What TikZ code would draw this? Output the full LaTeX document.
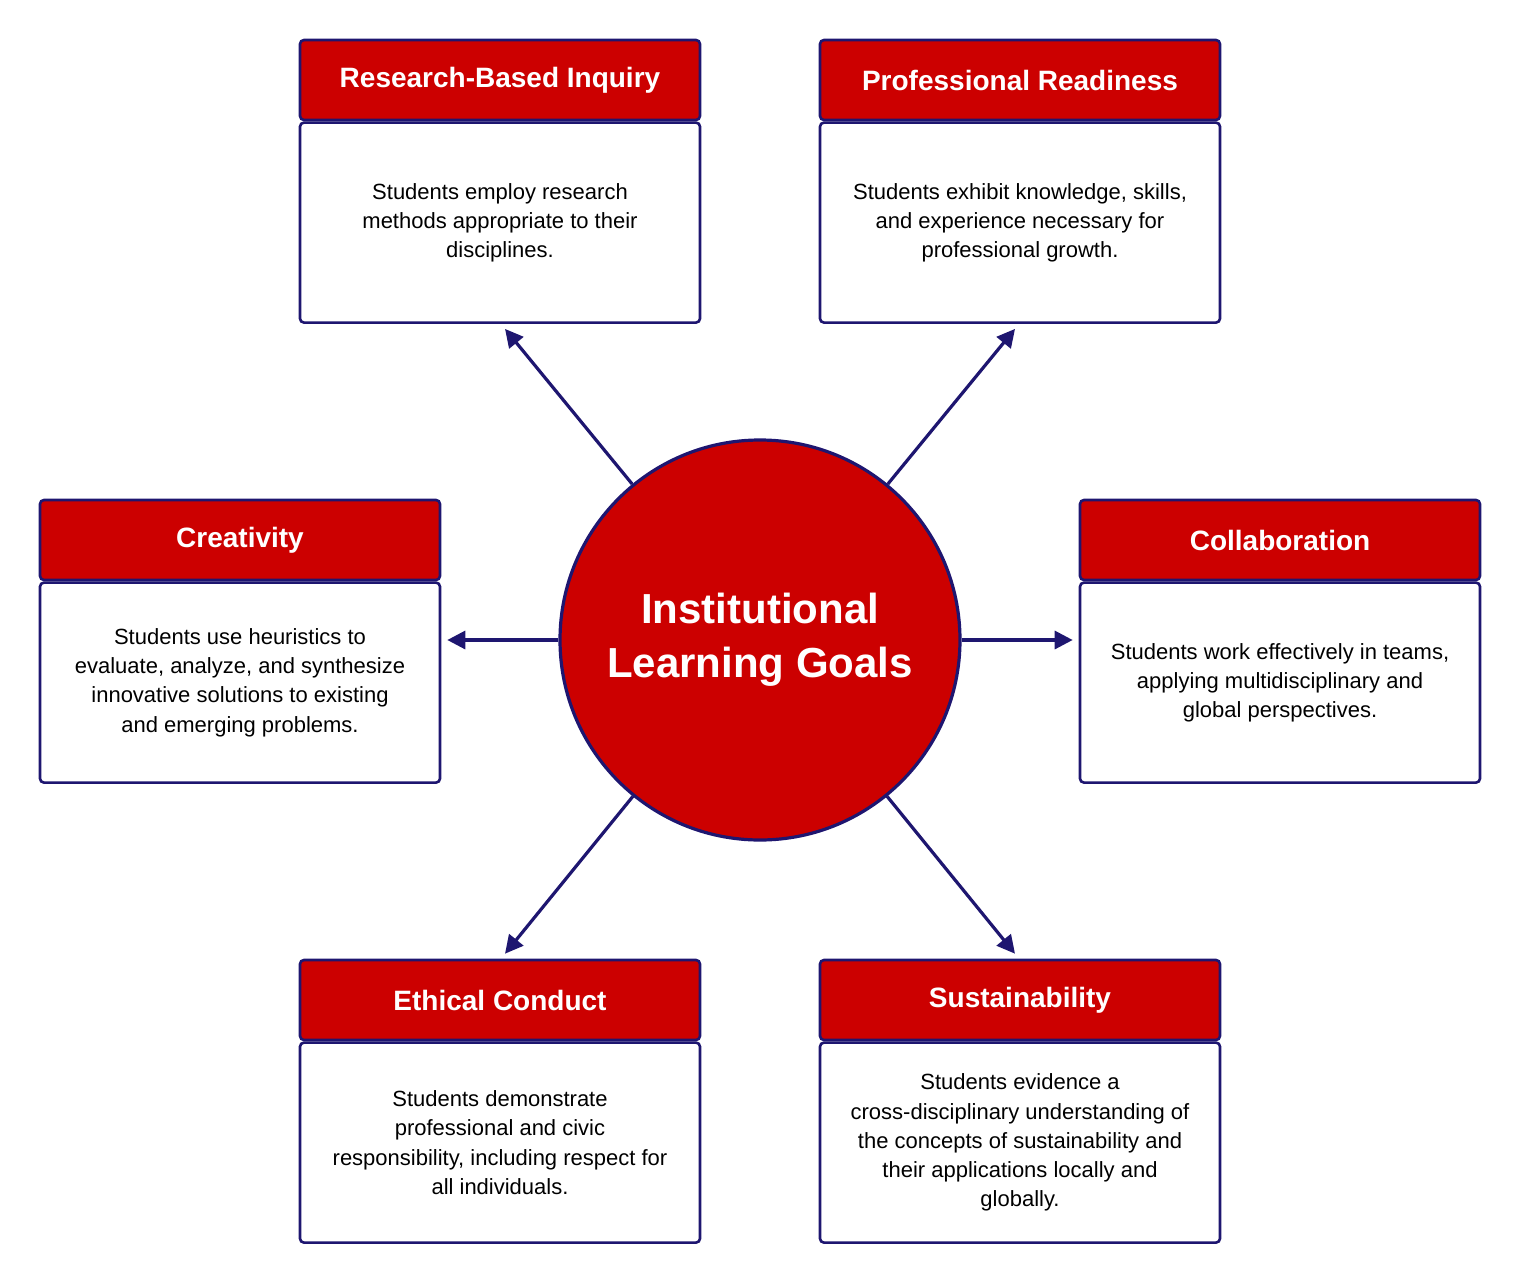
\documentclass[tikz,border=0pt]{standalone}
\usepackage{fontspec}
\setmainfont{Liberation Sans}
\usetikzlibrary{positioning, arrows.meta}
\definecolor{goalred}{HTML}{CC0000}
\definecolor{goalblue}{HTML}{1E1670}
\tikzset{
head/.style={draw=goalblue, line width=1.3pt, fill=goalred, rounded corners=2pt, minimum width=200pt, minimum height=40pt, text=white, font=\fontsize{14}{17}\selectfont\bfseries}, % red title bar
body/.style={draw=goalblue, line width=1.3pt, fill=white, rounded corners=2pt, minimum width=200pt, minimum height=100pt, align=center, font=\fontsize{11}{14.6}\selectfont}, % text box
link/.style={draw=goalblue, line width=1.6pt, -{Triangle[length=9pt, width=9pt]}},
}
\begin{document}
\begin{tikzpicture}[x=0.5pt, y=-0.5pt, node distance=0pt]
    \useasboundingbox (0,0) rectangle (1520,1280);
    % center
    \node[circle, draw=goalblue, line width=1.6pt, fill=goalred, minimum size=200pt, align=center, text=white, font=\fontsize{21}{27}\selectfont\bfseries] (c) at (760,640) {Institutional\\Learning Goals};
    % goals
    \node[head] (rh) at (500,80) {Research-Based Inquiry};
    \node[body, below=of rh] (rb) {Students employ research\\methods appropriate to their\\disciplines.};
    \node[head] (ph) at (1020,80) {Professional Readiness};
    \node[body, below=of ph] (pb) {Students exhibit knowledge, skills,\\and experience necessary for\\professional growth.};
    \node[head] (crh) at (240,540) {Creativity};
    \node[body, below=of crh] (crb) {Students use heuristics to\\evaluate, analyze, and synthesize\\innovative solutions to existing\\and emerging problems.};
    \node[head] (coh) at (1280,540) {Collaboration};
    \node[body, below=of coh] (cob) {Students work effectively in teams,\\applying multidisciplinary and\\global perspectives.};
    \node[head] (eh) at (500,1000) {Ethical Conduct};
    \node[body, below=of eh] (eb) {Students demonstrate\\professional and civic\\responsibility, including respect for\\all individuals.};
    \node[head] (sh) at (1020,1000) {Sustainability};
    \node[body, below=of sh] (sb) {Students evidence a\\cross-disciplinary understanding of\\the concepts of sustainability and\\their applications locally and\\globally.};
    % arrows
    \coordinate (crt) at (crb.east |- c);
    \coordinate (cot) at (cob.west |- c);
    \draw[link] (c) -- ([shift={(5,5)}]rb.south);
    \draw[link] (c) -- ([shift={(-5,5)}]pb.south);
    \draw[link] (c) -- ([xshift=3]crt);
    \draw[link] (c) -- ([xshift=-3]cot);
    \draw[link] (c) -- ([shift={(5,-5)}]eh.north);
    \draw[link] (c) -- ([shift={(-5,-5)}]sh.north);
\end{tikzpicture}
\end{document}
